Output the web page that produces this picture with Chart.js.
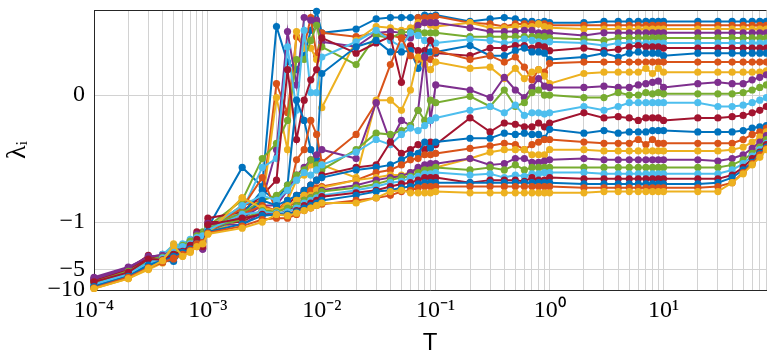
<!DOCTYPE html>
<html>
<head>
<meta charset="utf-8">
<script src="https://cdn.jsdelivr.net/npm/chart.js@4.4.1/dist/chart.umd.min.js"></script>
<style>
  html, body { margin: 0; padding: 0; background: #fff; overflow: hidden; }
</style>
</head>
<body>
<canvas id="chart" width="770" height="355"></canvas>
<script>
// temperatures (x)
const T = [
  1e-4, 2e-4, 3e-4, 4e-4, 5e-4, 6e-4, 7e-4, 8e-4, 9e-4,
  1e-3, 2e-3, 3e-3, 4e-3, 5e-3, 6e-3, 7e-3, 8e-3, 9e-3,
  1e-2, 2e-2, 3e-2, 4e-2, 5e-2, 6e-2, 7e-2, 8e-2, 9e-2,
  0.1, 0.2, 0.3, 0.4, 0.5, 0.6, 0.7, 0.8, 0.9,
  1, 2, 3, 4, 5, 6, 7, 8, 9,
  10, 20, 30, 40, 50, 60, 70, 80
];

// eigenvalues lambda_i, one array per i
const L1 = [-8.0,-5.6,-3.8,-3.3,-2.6,-2.4,-2.0,-1.7,-1.6,-1.20,
  -.57,-.72,.54,.26,.20,.31,.51,.66,.49,.52,.60,.61,.61,.61,.61,.63,.62,.63,
  .58,.60,.61,.60,.58,.58,.57,.58,.57,.57,.58,.58,.58,.58,.58,.58,.58,.58,.58,.58,.58,.58,.58,.58,.58];
const L2 = [-8.8,-6.5,-4.2,-3.6,-2.9,-2.7,-2.3,-1.9,-1.8,-1.30,
  -.87,-.83,.09,-.14,.46,.38,.61,.31,.49,.46,.49,.47,.45,.46,.61,.61,.61,.62,
  .57,.56,.54,.56,.56,.56,.56,.56,.55,.55,.55,.55,.55,.55,.55,.55,.55,.55,.55,.55,.55,.55,.55,.55,.55];
const L3 = [-9.2,-6.2,-4.5,-3.2,-2.1,-2.6,-2.2,-1.8,-1.7,-1.35,
  -.81,-.87,-.02,-.43,.50,.37,.37,.28,-.10,.43,.54,.53,.51,.53,.57,.57,.55,.54,
  .57,.53,.53,.54,.54,.54,.56,.54,.53,.52,.52,.52,.52,.52,.52,.52,.52,.52,.52,.52,.52,.52,.52,.52,.52];
const L4 = [-6.5,-4.6,-3.3,-3.0,-2.8,-2.3,-1.9,-1.5,-2.5,-1.10,
  -.94,-.83,-.43,.50,.08,.61,.59,.59,.42,.38,.49,.50,.49,.45,.55,.57,.57,.57,
  .53,.50,.50,.50,.51,.51,.49,.49,.49,.47,.49,.49,.49,.49,.49,.49,.49,.49,.49,.49,.49,.49,.49,.49,.49];
const L5 = [-7.5,-5.2,-3.5,-3.1,-2.4,-2.2,-1.9,-1.5,-1.4,-1.15,
  -.83,-.50,-.38,-.20,.28,.28,.43,.55,.38,.24,.47,.45,.49,.50,.50,.49,.49,.49,
  .46,.46,.46,.46,.46,.46,.46,.46,.45,.44,.43,.45,.45,.45,.45,.45,.45,.45,.45,.45,.45,.45,.45,.45,.45];
const L6 = [-8.4,-5.8,-3.9,-3.0,-2.2,-2.1,-1.8,-1.6,-1.5,-1.25,
  -.91,-.57,-.50,.38,-.12,.51,.02,.02,.30,.42,.51,.43,.38,.49,.47,.43,.41,.41,
  .44,.43,.41,.42,.44,.43,.42,.41,.42,.41,.39,.41,.41,.41,.41,.41,.41,.41,.41,.41,.41,.41,.41,.41,.41];
const L7 = [-7.2,-5.0,-3.1,-3.5,-2.9,-2.6,-2.1,-1.4,-1.7,-0.97,
  -.92,-.79,-.67,.20,-.35,-.04,.12,.20,.45,.33,.41,.46,.10,.39,.35,.35,.43,.33,
  .31,.37,.37,.39,.39,.37,.39,.38,.35,.37,.35,.36,.38,.39,.38,.38,.38,.37,.37,.37,.37,.37,.37,.37,.37];
const L8 = [-8.6,-6.0,-4.1,-3.7,-3.8,-2.8,-2.5,-2.2,-1.9,-1.40,
  -.94,-.75,-.83,-.71,-.04,-.20,-.43,-.51,.17,.38,.43,.34,.34,.35,.21,.31,.34,.34,
  .39,.31,.31,.35,.37,.34,.34,.33,.28,.30,.33,.30,.33,.34,.33,.33,.33,.31,.33,.33,.33,.33,.33,.33,.33];
const L9 = [-9.0,-6.6,-4.8,-3.8,-3.0,-3.0,-2.4,-2.0,-1.8,-1.30,
  -.89,-.65,-.91,-.83,-.51,-.43,-.20,-.31,-.53,-.31,-.06,.24,.45,.31,.28,.29,.28,.35,
  .28,.31,.26,.30,.22,.12,.20,.18,.25,.26,.26,.26,.26,.26,.26,.26,.26,.26,.26,.26,.26,.26,.26,.26,.26];
const L10 = [-9.5,-6.8,-5.0,-4.0,-3.3,-3.2,-2.7,-2.2,-2.0,-1.45,
  -.98,-.91,-.94,-.83,-.67,-.63,-.55,-.59,-.55,-.65,-.04,-.04,-.12,.04,.30,.24,.20,.26,
  .21,.22,.13,.21,.13,.18,.20,.15,.09,.17,.18,.18,.18,.18,.21,.17,.21,.18,.18,.18,.18,.18,.18,.18,.19];
const L11 = [-7.0,-4.8,-3.6,-3.4,-2.7,-2.5,-2.1,-1.6,-2.2,-1.20,
  -.97,-.87,-.87,-.75,-.63,-.57,-.51,-.47,-.43,-.50,-.06,-.37,-.20,-.24,-.12,.30,-.20,.08,
  .04,-.02,.14,.04,-.02,.06,.13,.07,.06,.06,.07,.06,.06,.08,.09,.10,.11,.06,.09,.10,.09,.09,.12,.14,.16];
const L12 = [-7.8,-5.4,-3.7,-3.2,-2.5,-2.3,-2.0,-1.7,-1.6,-1.15,
  -.93,-.83,-.79,-.71,-.63,-.59,-.51,-.55,-.59,-.43,-.30,-.31,-.28,-.24,-.12,-.20,-.04,-.06,
  -.01,-.09,.04,-.09,-.06,.02,.04,0,0,-.02,-.02,.02,0,0,.02,.01,.02,.01,.01,.01,.01,.02,.04,.06,.08];
const L13 = [-8.2,-5.7,-3.9,-3.3,-2.3,-2.2,-2.0,-1.6,-1.6,-1.25,
  -.87,-.79,-.83,-.75,-.67,-.61,-.63,-.59,-.55,-.45,-.35,-.39,-.31,-.26,-.28,-.24,-.20,-.18,
  -.12,-.09,-.14,-.08,-.16,-.14,-.14,-.15,-.14,-.09,-.12,-.09,-.06,-.06,-.06,-.06,-.06,-.06,-.06,-.09,-.09,-.08,-.06,-.04,-.02];
const L14 = [-7.4,-5.1,-3.4,-3.6,-3.1,-2.9,-2.3,-1.9,-2.4,-1.00,
  -1.0,-.91,-.91,-.87,-.79,-.75,-.71,-.67,-.63,-.57,-.55,-.37,-.46,-.43,-.39,-.43,-.37,-.39,
  -.18,-.29,-.22,-.23,-.25,-.25,-.22,-.25,-.22,-.14,-.18,-.17,-.18,-.20,-.18,-.18,-.18,-.20,-.18,-.18,-.17,-.16,-.14,-.12,-.09];
const L15 = [-8.7,-6.1,-4.0,-3.5,-2.8,-2.4,-2.6,-2.1,-1.9,-1.35,
  -.97,-.83,-.87,-.83,-.79,-.75,-.71,-.67,-.65,-.59,-.57,-.55,-.51,-.47,-.46,-.37,-.42,-.37,
  -.34,-.34,-.30,-.31,-.30,-.31,-.31,-.34,-.27,-.30,-.28,-.30,-.29,-.29,-.29,-.28,-.28,-.28,-.29,-.29,-.29,-.28,-.26,-.25,-.24];
const L16 = [-9.1,-6.4,-4.6,-3.9,-3.5,-2.9,-2.4,-2.0,-1.9,-1.40,
  -.94,-.87,-.91,-.89,-.83,-.79,-.75,-.73,-.72,-.67,-.61,-.59,-.55,-.51,-.50,-.47,-.47,-.46,
  -.42,-.40,-.38,-.39,-.43,-.39,-.37,-.35,-.35,-.37,-.38,-.38,-.38,-.35,-.39,-.35,-.38,-.38,-.38,-.38,-.38,-.35,-.31,-.29,-.26];
const L17 = [-9.4,-6.7,-4.9,-3.7,-2.3,-3.1,-2.8,-2.3,-2.1,-1.50,
  -.81,-.89,-.91,-.87,-.83,-.79,-.79,-.75,-.73,-.67,-.65,-.63,-.63,-.61,-.59,-.57,-.57,-.57,
  -.50,-.45,-.43,-.43,-.43,-.47,-.47,-.47,-.43,-.43,-.44,-.44,-.44,-.44,-.44,-.44,-.44,-.44,-.44,-.44,-.43,-.41,-.37,-.33,-.29];
const L18 = [-6.8,-4.7,-3.2,-3.1,-2.6,-2.4,-2.0,-1.5,-2.5,-1.05,
  -1.11,-.92,-.94,-.91,-.87,-.83,-.81,-.79,-.75,-.71,-.67,-.65,-.64,-.61,-.57,-.55,-.54,-.54,
  -.50,-.55,-.54,-.50,-.50,-.53,-.53,-.52,-.51,-.50,-.51,-.51,-.51,-.51,-.51,-.51,-.51,-.51,-.51,-.52,-.50,-.47,-.42,-.37,-.32];
const L19 = [-7.7,-5.3,-3.6,-3.3,-2.6,-2.2,-1.9,-1.6,-1.5,-1.20,
  -.98,-.91,-.92,-.89,-.87,-.83,-.81,-.79,-.76,-.73,-.70,-.67,-.65,-.64,-.61,-.59,-.59,-.57,
  -.59,-.57,-.59,-.55,-.59,-.57,-.57,-.57,-.57,-.57,-.57,-.57,-.57,-.57,-.57,-.57,-.57,-.57,-.57,-.57,-.55,-.51,-.46,-.41,-.35];
const L20 = [-8.3,-5.9,-4.0,-3.4,-2.4,-2.3,-2.1,-1.7,-1.6,-1.30,
  -.94,-.92,-.93,-.92,-.89,-.85,-.83,-.81,-.79,-.75,-.72,-.69,-.68,-.65,-.64,-.62,-.62,-.61,
  -.63,-.62,-.65,-.63,-.64,-.62,-.62,-.61,-.61,-.61,-.62,-.62,-.62,-.62,-.62,-.62,-.62,-.62,-.62,-.62,-.59,-.54,-.48,-.43,-.38];
const L21 = [-7.6,-5.5,-3.5,-3.6,-3.0,-2.7,-2.2,-1.8,-2.3,-1.10,
  -.97,-.94,-.94,-.94,-.91,-.87,-.85,-.83,-.80,-.77,-.75,-.72,-.70,-.69,-.67,-.65,-.65,-.65,
  -.69,-.67,-.67,-.67,-.68,-.65,-.67,-.67,-.65,-.66,-.66,-.66,-.66,-.66,-.66,-.66,-.66,-.66,-.66,-.66,-.63,-.57,-.50,-.45,-.39];
const L22 = [-8.9,-6.3,-4.3,-3.8,-3.2,-2.8,-2.5,-2.1,-2.0,-1.40,
  -1.07,-.95,-.94,-.94,-.92,-.89,-.87,-.85,-.83,-.79,-.76,-.75,-.73,-.72,-.70,-.69,-.69,-.69,
  -.69,-.69,-.69,-.69,-.69,-.69,-.69,-.69,-.69,-.70,-.70,-.70,-.70,-.70,-.70,-.70,-.70,-.70,-.70,-.69,-.65,-.59,-.53,-.46,-.41];
const L23 = [-9.3,-6.5,-4.7,-3.9,-3.4,-3.0,-2.6,-2.1,-2.0,-1.45,
  -1.15,-.98,-.97,-.97,-.94,-.91,-.89,-.87,-.86,-.83,-.81,-.79,-.76,-.75,-.73,-.72,-.72,-.72,
  -.72,-.72,-.72,-.72,-.72,-.72,-.72,-.72,-.72,-.73,-.73,-.73,-.73,-.73,-.73,-.73,-.73,-.73,-.73,-.72,-.69,-.61,-.54,-.47,-.42];
const L24 = [-9.5,-6.8,-4.8,-3.7,-2.2,-3.2,-2.7,-2.3,-2.1,-1.50,
  -1.23,-1.0,-.94,-.95,-.93,-.91,-.89,-.87,-.85,-.85,-.81,-.76,-.75,-.77,-.77,-.77,-.77,-.76,
  -.77,-.77,-.77,-.77,-.77,-.77,-.77,-.77,-.77,-.77,-.76,-.76,-.76,-.76,-.76,-.76,-.76,-.76,-.76,-.76,-.69,-.62,-.55,-.49,-.43];

const series = [L1, L2, L3, L4, L5, L6, L7, L8, L9, L10, L11, L12,
  L13, L14, L15, L16, L17, L18, L19, L20, L21, L22, L23, L24];

const yTicks = [-10, -5, -1, 0];
const colors = ['#0072BD', '#D95319', '#EDB120', '#7E2F8E', '#77AC30', '#4DBEEE', '#A2142F'];

// axis is linear above -1 and logarithmic below it
const K = 0.2325;
function fwd(v) { return v >= -1 ? v : -1 - K * Math.log(-v); }
function inv(u) { return u >= -1 ? u : -Math.exp((-1 - u) / K); }

class LambdaScale extends Chart.LinearScale {
  buildTicks() {
    return yTicks.map(v => ({ value: v }));
  }
  getPixelForValue(v) {
    const a = fwd(this.min), b = fwd(this.max);
    return this.getPixelForDecimal((fwd(v) - a) / (b - a));
  }
  getValueForPixel(p) {
    const a = fwd(this.min), b = fwd(this.max);
    return inv(a + this.getDecimalForPixel(p) * (b - a));
  }
}
LambdaScale.id = 'lambda';
LambdaScale.defaults = Chart.LinearScale.defaults;
Chart.register(LambdaScale);

const sup = { '-': '\u207B', '0': '\u2070', '1': '\u00B9', '2': '\u00B2', '3': '\u00B3', '4': '\u2074' };
function decadeLabel(v) {
  const e = Math.log10(v);
  if (Math.abs(e - Math.round(e)) > 1e-6) return '';
  return '10' + String(Math.round(e)).split('').map(c => sup[c]).join('');
}

// top frame line
const frame = {
  id: 'frame',
  beforeDatasetsDraw(c) {
    const { ctx, chartArea: a } = c;
    ctx.save();
    ctx.strokeStyle = '#262626';
    ctx.lineWidth = 1;
    ctx.beginPath();
    ctx.moveTo(a.left, a.top + 0.5);
    ctx.lineTo(a.right, a.top + 0.5);
    ctx.stroke();
    ctx.restore();
  }
};

const ctx = document.getElementById('chart').getContext('2d');
new Chart(ctx, {
  type: 'line',
  data: {
    labels: T,
    datasets: series.map((s, i) => ({
      data: s.map((y, j) => ({ x: T[j], y: y })),
      borderColor: colors[i % 7],
      backgroundColor: colors[i % 7],
      borderWidth: 2,
      pointRadius: 3.6,
      pointBorderWidth: 0,
      pointHoverRadius: 3.6,
      tension: 0,
      clip: false,
      order: -i
    }))
  },
  options: {
    responsive: false,
    devicePixelRatio: 1,
    animation: false,
    layout: { padding: { top: 10, right: 1, left: 0, bottom: 0 } },
    plugins: { legend: { display: false }, tooltip: { enabled: false } },
    scales: {
      x: {
        type: 'logarithmic',
        min: 1e-4,
        max: 80,
        afterBuildTicks: s => { s.ticks = T.map(v => ({ value: v })); },
        afterFit: s => { s.height = 65; s.paddingLeft = 0; s.paddingRight = 0; },
        grid: { color: '#d2d2d2', lineWidth: 1, drawTicks: false },
        border: { color: '#262626', width: 1 },
        ticks: {
          autoSkip: false, maxRotation: 0, minRotation: 0, padding: 6,
          color: '#000',
          font: { family: 'Liberation Serif', size: 24 },
          callback: v => decadeLabel(v)
        },
        title: {
          display: true, text: 'T', color: '#000',
          font: { family: 'Liberation Sans', size: 24, lineHeight: 1 },
          padding: 0
        }
      },
      y: {
        type: 'lambda',
        min: -10,
        max: 0.67,
        afterFit: s => { s.width = 94; s.paddingTop = 0; s.paddingBottom = 0; },
        grid: { color: '#d2d2d2', lineWidth: 1, drawTicks: false },
        border: { color: '#262626', width: 1 },
        ticks: {
          padding: 9, color: '#000',
          font: { family: 'Liberation Serif', size: 24 },
          callback: v => (v === 0 ? '0' : '\u2212' + Math.abs(v))
        },
        title: {
          display: true, text: '\u03BB\u1D62', color: '#000',
          font: { family: 'Liberation Serif', size: 28, lineHeight: 1 },
          padding: { top: 4, bottom: 0 }
        }
      }
    }
  },
  plugins: [frame]
});
</script>
</body>
</html>
